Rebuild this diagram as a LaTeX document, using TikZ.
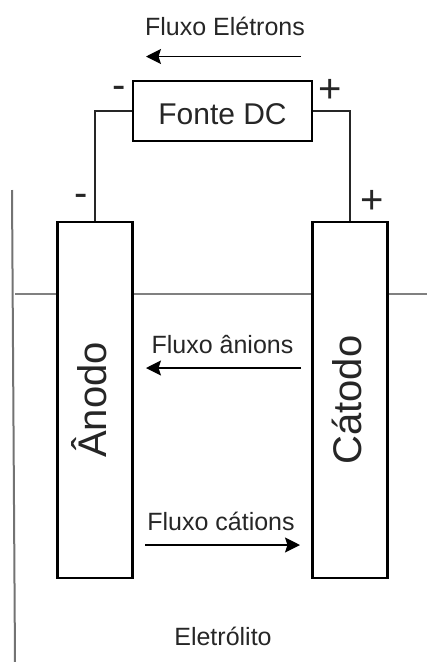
\documentclass[tikz,border=0pt]{standalone}
\usepackage{fontspec}
\setmainfont{Liberation Sans}
\usetikzlibrary{arrows.meta}
\definecolor{ink}{HTML}{262626}
\tikzset{
  box/.style={draw=black,fill=white,line width=2.7pt,inner sep=0pt,text=ink},
  electrode/.style={box,rotate=90,minimum width=356pt,minimum height=75pt,font=\fontsize{40}{40}\selectfont,text height=23pt,text depth=0pt},
  source/.style={box,minimum width=179pt,minimum height=60pt,font=\fontsize{30}{30}\selectfont,text height=26pt,text depth=0pt},
  label/.style={inner sep=0pt,text=ink,font=\fontsize{25}{25}\selectfont,text height=18pt,text depth=0pt},
  sign/.style={inner sep=0pt,text=ink,font=\fontsize{40}{40}\selectfont},
  wire/.style={draw=ink,line width=1.6pt},
  flow/.style={draw=black,line width=1.4pt,-{Stealth[length=15pt,width=15pt,inset=2.5pt]}},
  wall/.style={draw=black!55,line width=2pt},
  level/.style={draw=black!50,line width=2.6pt}
}
\begin{document}
\begin{tikzpicture}[x=1pt,y=-1pt]
\useasboundingbox (0,0) rectangle (427,662);
\coordinate (wallTop) at (12,190);
\coordinate (wallBottom) at (15,662);
\coordinate (levelLeft) at (15,294);
\coordinate (levelRight) at (427,294);
\draw[wall] (wallTop) -- (wallBottom);
\draw[level] (levelLeft) -- (levelRight);
\node[electrode] (anodo) at (95,400) {Ânodo};
\node[electrode] (catodo) at (350,400) {Cátodo};
\node[source] (fonte) at (222.5,111) {Fonte DC};
\draw[wire] (fonte.west) -| (anodo.east);
\draw[wire] (fonte.east) -| (catodo.east);
\node[label] (eletrons) at (225,26) {Fluxo Elétrons};
\node[label] (anions) at (222.5,344) {Fluxo ânions};
\node[label] (cations) at (221,521) {Fluxo cátions};
\node[label] (eletrolito) at (223,636) {Eletrólito};
\coordinate (e1) at (301,56.5); \coordinate (e2) at (146,56.5);
\coordinate (a1) at (301,368); \coordinate (a2) at (146,368);
\coordinate (c1) at (145,545); \coordinate (c2) at (300,545);
\draw[flow] (e1) -- (e2);
\draw[flow] (a1) -- (a2);
\draw[flow] (c1) -- (c2);
\node[sign] (m1) at (119,92) {-};
\node[sign] (p1) at (330.5,91) {+};
\node[sign] (m2) at (81,200) {-};
\node[sign] (p2) at (372,202) {+};
\end{tikzpicture}
\end{document}
